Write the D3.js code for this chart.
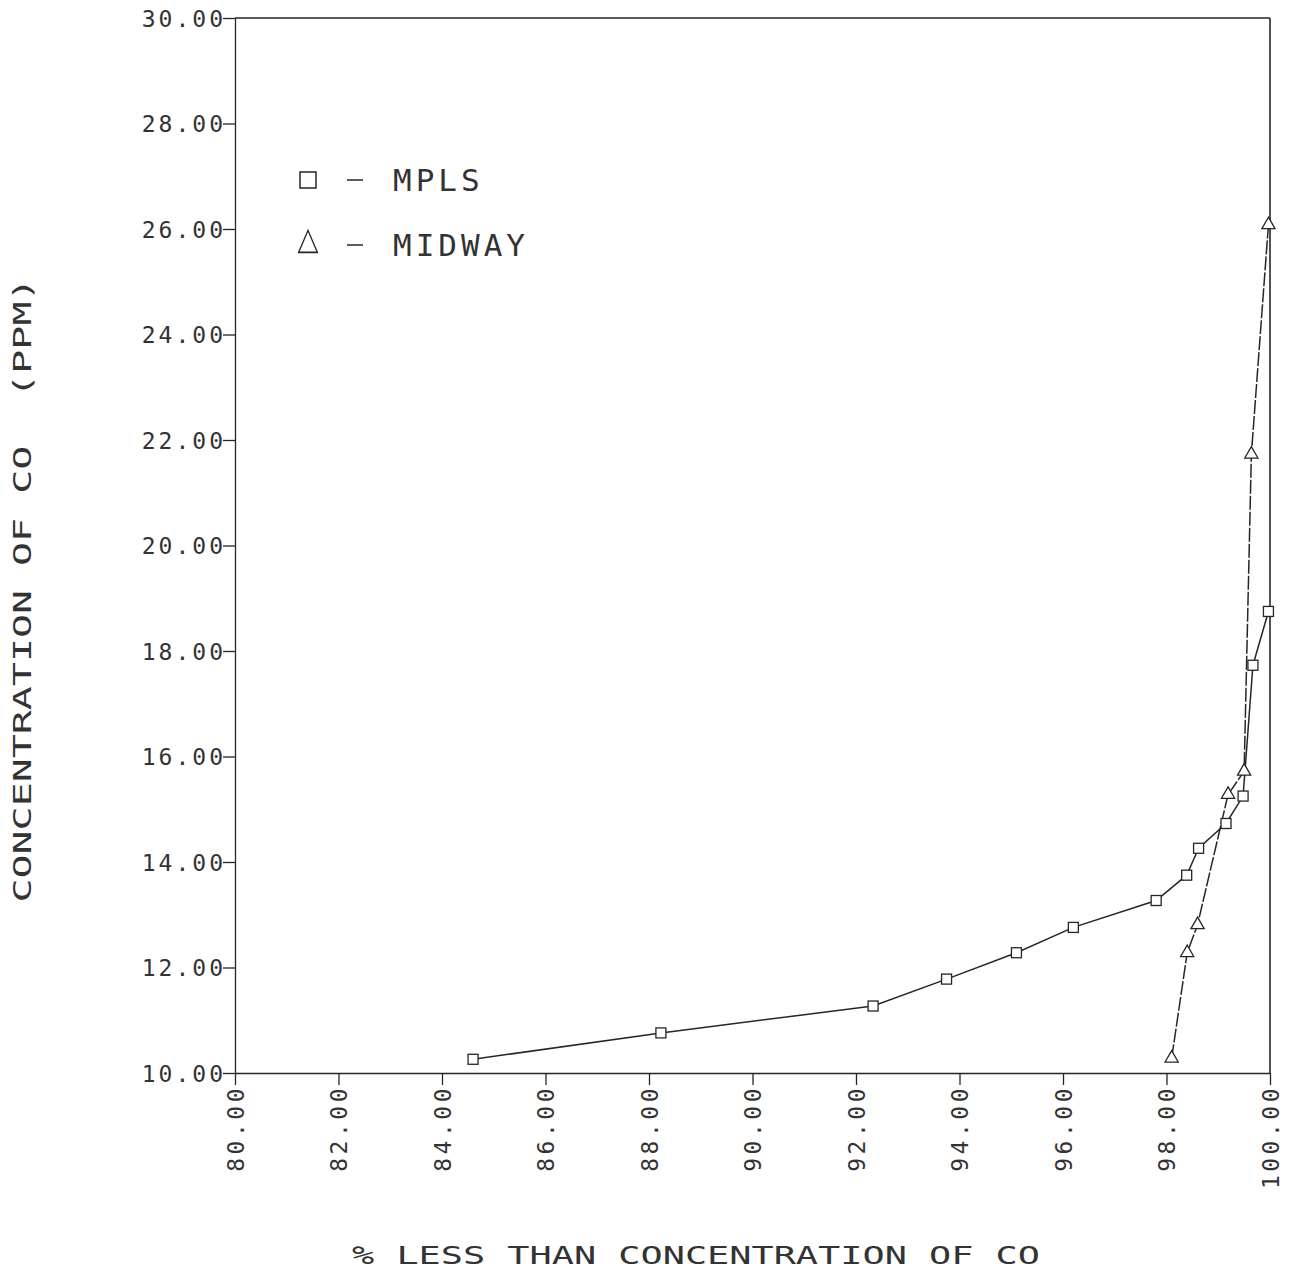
<!DOCTYPE html>
<html>
<head>
<meta charset="utf-8">
<script src="https://cdn.jsdelivr.net/npm/d3@7"></script>
<style>
  body { margin: 0; background: #fff; }
  text { font-family: "DejaVu Sans Mono", monospace; fill: #333; }
</style>
</head>
<body>
<div id="chart"></div>
<script>
var w = 1291;
var h = 1283;

// percent of hours below a given CO level, and that level (ppm)
var xTicks = [80, 82, 84, 86, 88, 90, 92, 94, 96, 98, 100];
var yTicks = [10, 12, 14, 16, 18, 20, 22, 24, 26, 28, 30];

var mplsPct = [84.6, 88.23, 92.33, 93.75, 95.1, 96.2, 97.8, 98.39, 98.62, 99.15, 99.48, 99.67, 99.97];
var mplsCo  = [10.26, 10.76, 11.27, 11.78, 12.28, 12.76, 13.27, 13.75, 14.26, 14.73, 15.25, 17.73, 18.75];

var midwayPct = [98.1, 98.4, 98.6, 99.19, 99.5, 99.64, 99.97];
var midwayCo  = [10.28, 12.28, 12.81, 15.28, 15.72, 21.73, 26.08];

var x = d3.scaleLinear().domain([80, 100]).range([235, 1270]);
var y = d3.scaleLinear().domain([10, 30]).range([1073, 18]);

var svg = d3.select("#chart").append("svg")
            .attr("width", w)
            .attr("height", h);

var ink = "#262626";

// frame top and right
svg.append("line")
   .attr("x1", x(80)).attr("x2", x(100))
   .attr("y1", y(30)).attr("y2", y(30))
   .attr("stroke", ink).attr("stroke-width", 1.3);
svg.append("line")
   .attr("x1", x(100)).attr("x2", x(100))
   .attr("y1", y(30)).attr("y2", y(10))
   .attr("stroke", ink).attr("stroke-width", 1.6);

// y axis
var yAxis = svg.append("g")
   .attr("transform", "translate(" + x(80) + ",0)")
   .call(d3.axisLeft(y).tickValues(yTicks).tickFormat(d3.format(".2f"))
         .tickSize(12).tickSizeOuter(0).tickPadding(0));
yAxis.selectAll("text")
   .attr("x", -9)
   .attr("dy", "0.36em")
   .style("font-size", "23px")
   .style("letter-spacing", "3px")
   .style("font-family", "'DejaVu Sans Mono', monospace")
   .attr("fill", "#333");

// x axis
var xAxis = svg.append("g")
   .attr("transform", "translate(0," + y(10) + ")")
   .call(d3.axisBottom(x).tickValues(xTicks).tickFormat(d3.format(".2f"))
         .tickSize(12).tickSizeOuter(0));
xAxis.selectAll("text")
   .attr("transform", "rotate(-90)")
   .attr("text-anchor", "end")
   .attr("x", -12)
   .attr("y", 0)
   .attr("dy", "0.36em")
   .style("font-size", "23px")
   .style("letter-spacing", "3.5px")
   .style("font-family", "'DejaVu Sans Mono', monospace")
   .attr("fill", "#333");

svg.selectAll(".domain, .tick line")
   .attr("stroke", ink)
   .attr("stroke-width", 1.3);

// series lines
var line = d3.line()
   .x(function(d) { return x(d[0]); })
   .y(function(d) { return y(d[1]); });

var mpls = d3.zip(mplsPct, mplsCo);
var midway = d3.zip(midwayPct, midwayCo);

svg.append("path")
   .datum(mpls)
   .attr("d", line)
   .attr("fill", "none")
   .attr("stroke", ink)
   .attr("stroke-width", 1.5);

svg.append("path")
   .datum(midway)
   .attr("d", line)
   .attr("fill", "none")
   .attr("stroke", ink)
   .attr("stroke-width", 1.5)
   .attr("stroke-dasharray", "14,2");

// markers
svg.selectAll("rect.mpls")
   .data(mpls)
   .enter()
   .append("rect")
   .attr("class", "mpls")
   .attr("x", function(d) { return x(d[0]) - 5; })
   .attr("y", function(d) { return y(d[1]) - 5; })
   .attr("width", 10)
   .attr("height", 10)
   .attr("fill", "#fff")
   .attr("stroke", ink)
   .attr("stroke-width", 1.3);

var tri = d3.symbol().type(d3.symbolTriangle).size(75);
svg.selectAll("path.midway")
   .data(midway)
   .enter()
   .append("path")
   .attr("class", "midway")
   .attr("d", tri)
   .attr("transform", function(d) {
     return "translate(" + x(d[0]) + "," + y(d[1]) + ")";
   })
   .attr("fill", "#fff")
   .attr("stroke", ink)
   .attr("stroke-width", 1.3);

// legend
svg.append("rect")
   .attr("x", 300).attr("y", 172)
   .attr("width", 16).attr("height", 16)
   .attr("fill", "#fff").attr("stroke", ink).attr("stroke-width", 1.5);
svg.append("path")
   .attr("d", d3.symbol().type(d3.symbolTriangle).size(210)())
   .attr("transform", "translate(308,245) scale(0.85,1.15)")
   .attr("fill", "#fff").attr("stroke", ink).attr("stroke-width", 1.5);

var legendNames = ["MPLS", "MIDWAY"];
var legendY = [180, 245];
legendNames.forEach(function(name, i) {
  svg.append("line")
     .attr("x1", 347).attr("x2", 363)
     .attr("y1", legendY[i]).attr("y2", legendY[i])
     .attr("stroke", ink).attr("stroke-width", 1.5);
  svg.append("text")
     .attr("x", 393)
     .attr("y", legendY[i])
     .attr("dy", "0.36em")
     .style("font-size", "31px")
     .style("letter-spacing", "4px")
     .text(name);
});

// axis titles
svg.append("text")
   .attr("transform", "translate(22,590) rotate(-90)")
   .attr("text-anchor", "middle")
   .attr("dy", "0.36em")
   .attr("textLength", 625)
   .attr("lengthAdjust", "spacingAndGlyphs")
   .style("white-space", "pre")
   .style("font-size", "25px")
   .text("CONCENTRATION OF CO  (PPM)");

svg.append("text")
   .attr("x", 696)
   .attr("y", 1255)
   .attr("text-anchor", "middle")
   .attr("dy", "0.36em")
   .attr("textLength", 688)
   .attr("lengthAdjust", "spacingAndGlyphs")
   .style("white-space", "pre")
   .style("font-size", "25px")
   .text("% LESS THAN CONCENTRATION OF CO");
</script>
</body>
</html>
